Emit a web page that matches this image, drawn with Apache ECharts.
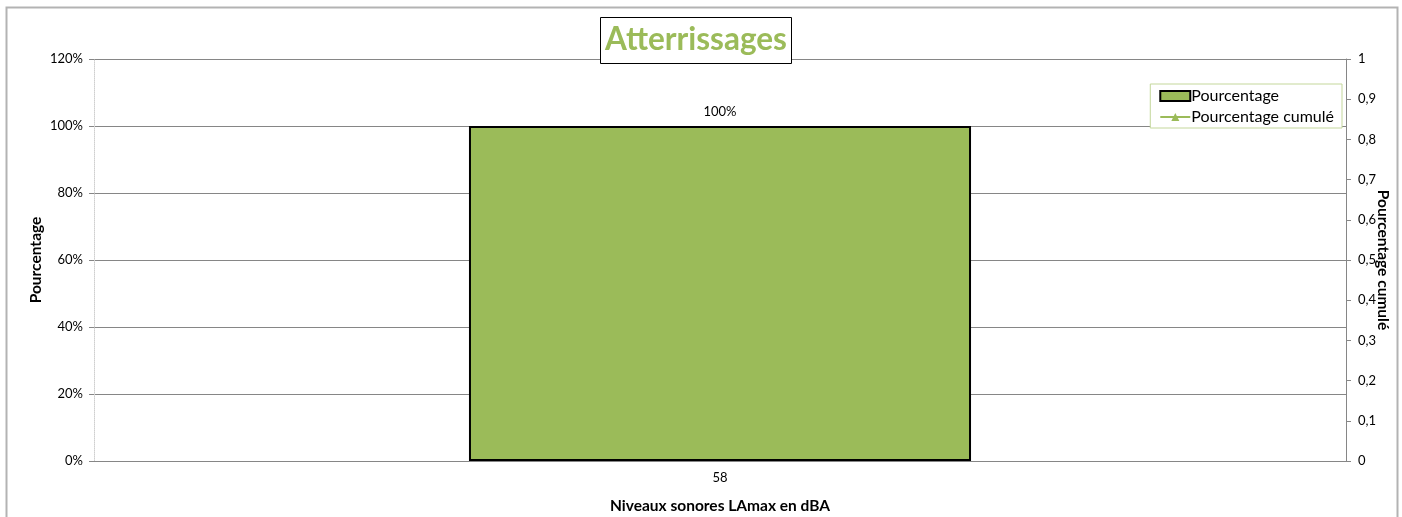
<!DOCTYPE html>
<html>
<head>
<meta charset="utf-8">
<script src="https://cdn.jsdelivr.net/npm/echarts@6/dist/echarts.min.js"></script>
<style>
  html, body { margin: 0; padding: 0; background: #fff; }
  #chart { width: 1402px; height: 517px; }
</style>
</head>
<body>
<div id="chart"></div>
<script>
// niveaux sonores (dBA)
const categories = ['58']
// part des atterrissages par niveau (1 = 100 %)
const pourcentage = [1]
const pourcentageCumule = [1]
const leftTicks = { min: 0, max: 1.2, interval: 0.2 }
const rightTicks = { min: 0, max: 1, interval: 0.1 }

const GREEN = '#9bbb59'
const FONT = 'Lato, "Open Sans", sans-serif'

const chart = echarts.init(document.getElementById('chart'), null, { renderer: 'canvas' })

chart.setOption({
  animation: false,
  textStyle: { fontFamily: FONT, color: '#000' },
  graphic: [{
    type: 'rect',
    left: 4,
    top: 5,
    shape: { width: 1391, height: 530 },
    style: { fill: 'none', stroke: '#b3b3b3', lineWidth: 2 },
    z: 0
  }],
  title: {
    text: 'Atterrissages',
    left: 600,
    top: 17,
    padding: [7, 5, 8, 5],
    borderColor: '#000',
    borderWidth: 1,
    backgroundColor: '#fff',
    textStyle: { fontFamily: FONT, fontSize: 31.5, fontWeight: 'bold', color: GREEN }
  },
  legend: {
    orient: 'vertical',
    right: 60,
    top: 84,
    padding: [4, 8, 3, 9],
    itemGap: 5,
    itemWidth: 30,
    itemHeight: 10,
    borderColor: '#c4d79b',
    borderWidth: 1,
    backgroundColor: '#fff',
    textStyle: { fontFamily: FONT, fontSize: 16, color: '#000', padding: [0, 0, 0, -4] },
    data: [
      { name: 'Pourcentage', icon: 'rect', itemStyle: { color: GREEN, borderColor: '#000', borderWidth: 2 } },
      { name: 'Pourcentage cumulé' }
    ]
  },
  grid: { left: 94, right: 56, top: 59, bottom: 56, containLabel: false, outerBoundsMode: 'none' },
  xAxis: {
    type: 'category',
    data: categories,
    name: 'Niveaux sonores LAmax en dBA',
    nameLocation: 'middle',
    nameGap: 37,
    nameTextStyle: { fontFamily: FONT, fontSize: 15.5, fontWeight: 'bold', color: '#000' },
    axisLine: { lineStyle: { color: '#868686' } },
    axisTick: { show: false },
    axisLabel: { fontFamily: FONT, fontSize: 13, color: '#000', margin: 10 }
  },
  yAxis: [{
    type: 'value',
    min: leftTicks.min,
    max: leftTicks.max,
    interval: leftTicks.interval,
    name: 'Pourcentage',
    nameLocation: 'middle',
    nameRotate: 90,
    nameGap: 50,
    nameMoveOverlap: false,
    nameTextStyle: { fontFamily: FONT, fontSize: 15.5, fontWeight: 'bold', color: '#000' },
    axisLine: { show: true, lineStyle: { color: '#cfcfcf', type: 'dotted' } },
    axisTick: { show: true, length: 5, lineStyle: { color: '#868686' } },
    axisLabel: {
      fontFamily: FONT, fontSize: 13, color: '#000', margin: 11,
      formatter: v => Math.round(v * 100) + '%'
    },
    splitLine: { lineStyle: { color: '#868686' } }
  }, {
    type: 'value',
    position: 'right',
    min: rightTicks.min,
    max: rightTicks.max,
    interval: rightTicks.interval,
    name: 'Pourcentage cumulé',
    nameLocation: 'middle',
    nameRotate: -90,
    nameGap: 29,
    nameMoveOverlap: false,
    nameTextStyle: { fontFamily: FONT, fontSize: 15.5, fontWeight: 'bold', color: '#000' },
    axisLine: { show: true, lineStyle: { color: '#868686' } },
    axisTick: { show: true, length: 5, lineStyle: { color: '#868686' } },
    axisLabel: {
      fontFamily: FONT, fontSize: 13, color: '#000', margin: 12,
      formatter: v => String(Math.round(v * 10) / 10).replace('.', ',')
    },
    splitLine: { show: false }
  }],
  series: [{
    name: 'Pourcentage',
    type: 'bar',
    data: pourcentage,
    barWidth: '40.1%',
    itemStyle: { color: GREEN, borderColor: '#000', borderWidth: 2 },
    label: {
      show: true,
      position: 'top',
      distance: 8,
      fontFamily: FONT,
      fontSize: 13,
      color: '#000',
      formatter: p => Math.round(p.value * 100) + '%'
    },
    z: 2
  }, {
    name: 'Pourcentage cumulé',
    type: 'line',
    yAxisIndex: 1,
    data: pourcentageCumule,
    symbol: 'triangle',
    symbolSize: 4,
    lineStyle: { color: GREEN, width: 1 },
    itemStyle: { color: GREEN },
    z: 1
  }]
})
</script>
</body>
</html>
